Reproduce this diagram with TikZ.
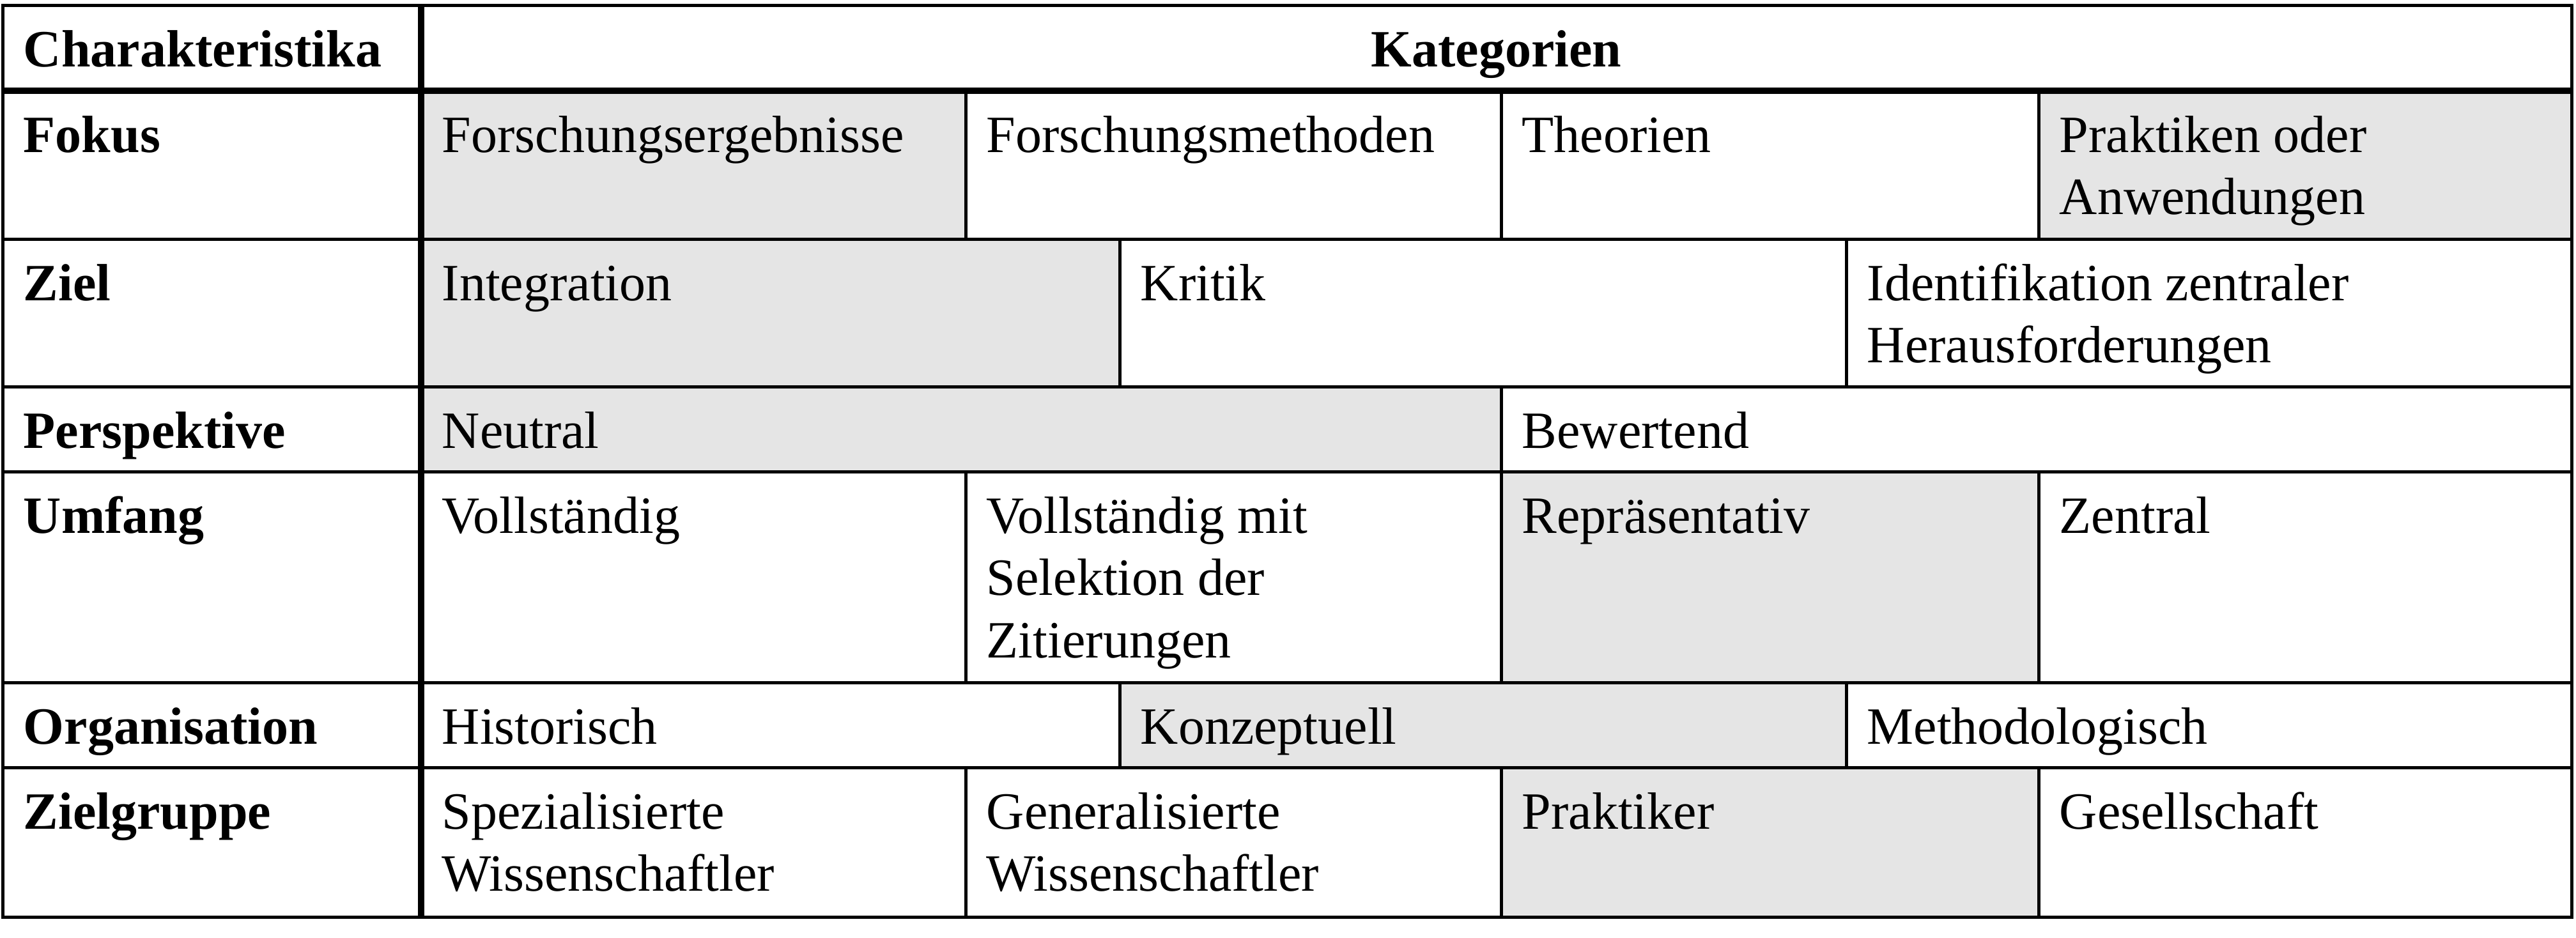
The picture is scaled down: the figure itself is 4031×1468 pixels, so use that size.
\documentclass[tikz,border=0pt]{standalone}
\usepackage{fontspec}
\setmainfont{Liberation Serif}
\definecolor{cellgray}{HTML}{E5E5E5}
\newcommand{\stackL}[1]{\vtop{#1}}
\newcommand{\oneL}[1]{\hbox{\strut #1}}
\begin{document}
\begin{tikzpicture}[x=0.25pt,y=-0.25pt,
 txt/.style={anchor=base west,inner sep=0pt,font=\fontsize{20.5}{24.45}\selectfont},
 hd/.style={anchor=base west,inner sep=0pt,font=\fontsize{20.5}{24.45}\selectfont\bfseries},
 thinline/.style={line width=1.25pt},
 thickline/.style={line width=2.5pt},
 shade/.style={fill=cellgray}]
\useasboundingbox (0,0) rectangle (4031,1468);
% shaded cells
\fill[shade] (659,142) rectangle (1511,374);
\fill[shade] (3190,142) rectangle (4024,374);
\fill[shade] (659,374) rectangle (1752,605);
\fill[shade] (659,605) rectangle (2349,738);
\fill[shade] (2349,738) rectangle (3190,1068);
\fill[shade] (1752,1068) rectangle (2889,1201);
\fill[shade] (2349,1201) rectangle (3190,1435);
% horizontal rules
\foreach \yy in {374,605,738,1068,1201} \draw[thinline] (4,\yy) -- (4024,\yy);
% column rules
\foreach \xx in {1511,2349,3190} {
  \draw[thinline] (\xx,142) -- (\xx,374);
  \draw[thinline] (\xx,738) -- (\xx,1068);
  \draw[thinline] (\xx,1201) -- (\xx,1435);
}
\foreach \xx in {1752,2889} {
  \draw[thinline] (\xx,374) -- (\xx,605);
  \draw[thinline] (\xx,1068) -- (\xx,1201);
}
\draw[thinline] (2349,605) -- (2349,738);
% outer frame and thick rules
\draw[thinline] (4,8) rectangle (4024,1435);
\draw[thickline] (4,142) -- (4024,142);
\draw[thickline] (659,8) -- (659,1435);
% header
\node[hd] (hc) at (36,104) {Charakteristika};
\node[hd,anchor=base] (hk) at (2341.5,104) {Kategorien};
% Fokus
\node[hd] (r1) at (36,238) {Fokus};
\node[txt] (c11) at (691,238) {Forschungsergebnisse};
\node[txt] (c12) at (1543,238) {Forschungsmethoden};
\node[txt] (c13) at (2381,238) {Theorien};
\node[txt] (c14) at (3222,238) {\stackL{\oneL{Praktiken oder}\oneL{Anwendungen}}};
% Ziel
\node[hd] (r2) at (36,470) {Ziel};
\node[txt] (c21) at (691,470) {Integration};
\node[txt] (c22) at (1784,470) {Kritik};
\node[txt] (c23) at (2921,470) {\stackL{\oneL{Identifikation zentraler}\oneL{Herausforderungen}}};
% Perspektive
\node[hd] (r3) at (36,701) {Perspektive};
\node[txt] (c31) at (691,701) {Neutral};
\node[txt] (c32) at (2381,701) {Bewertend};
% Umfang
\node[hd] (r4) at (36,834) {Umfang};
\node[txt] (c41) at (691,834) {Vollständig};
\node[txt] (c42) at (1543,834) {\stackL{\oneL{Vollständig mit}\oneL{Selektion der}\oneL{Zitierungen}}};
\node[txt] (c43) at (2381,834) {Repräsentativ};
\node[txt] (c44) at (3222,834) {Zentral};
% Organisation
\node[hd] (r5) at (36,1164) {Organisation};
\node[txt] (c51) at (691,1164) {Historisch};
\node[txt] (c52) at (1784,1164) {Konzeptuell};
\node[txt] (c53) at (2921,1164) {Methodologisch};
% Zielgruppe
\node[hd] (r6) at (36,1297) {Zielgruppe};
\node[txt] (c61) at (691,1297) {\stackL{\oneL{Spezialisierte}\oneL{Wissenschaftler}}};
\node[txt] (c62) at (1543,1297) {\stackL{\oneL{Generalisierte}\oneL{Wissenschaftler}}};
\node[txt] (c63) at (2381,1297) {Praktiker};
\node[txt] (c64) at (3222,1297) {Gesellschaft};
\end{tikzpicture}
\end{document}
